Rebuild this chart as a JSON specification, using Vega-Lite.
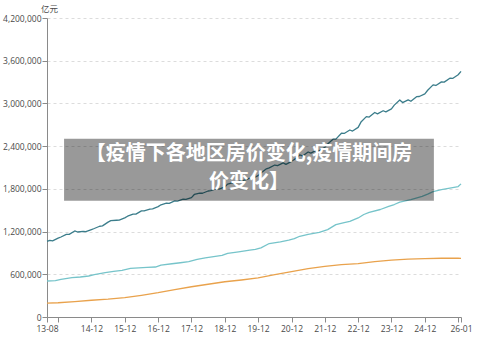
{
  "$schema": "https://vega.github.io/schema/vega-lite/v6.json",
  "width": 414,
  "height": 299,
  "autosize": {"type": "none"},
  "padding": {"left": 47, "top": 18, "right": 39, "bottom": 24},
  "background": "white",
  "config": {
    "view": {"stroke": null},
    "font": "Open Sans",
    "axis": {"labelFont": "Open Sans", "titleFont": "Noto Sans CJK SC"}
  },
  "resolve": {"axis": {"x": "independent"}},
  "data": {"values": [
    {"date": "2013-08-01", "s": "a", "v": 1061000},
    {"date": "2013-09-01", "s": "a", "v": 1077000},
    {"date": "2013-10-01", "s": "a", "v": 1070000},
    {"date": "2013-12-01", "s": "a", "v": 1107000},
    {"date": "2014-01-01", "s": "a", "v": 1124000},
    {"date": "2014-03-01", "s": "a", "v": 1161000},
    {"date": "2014-04-01", "s": "a", "v": 1160000},
    {"date": "2014-06-01", "s": "a", "v": 1209000},
    {"date": "2014-07-01", "s": "a", "v": 1194000},
    {"date": "2014-09-01", "s": "a", "v": 1202000},
    {"date": "2014-10-01", "s": "a", "v": 1199000},
    {"date": "2014-12-01", "s": "a", "v": 1228000},
    {"date": "2015-01-01", "s": "a", "v": 1243000},
    {"date": "2015-03-01", "s": "a", "v": 1275000},
    {"date": "2015-04-01", "s": "a", "v": 1280000},
    {"date": "2015-06-01", "s": "a", "v": 1333000},
    {"date": "2015-07-01", "s": "a", "v": 1353000},
    {"date": "2015-09-01", "s": "a", "v": 1359000},
    {"date": "2015-10-01", "s": "a", "v": 1361000},
    {"date": "2015-12-01", "s": "a", "v": 1392000},
    {"date": "2016-01-01", "s": "a", "v": 1416000},
    {"date": "2016-03-01", "s": "a", "v": 1446000},
    {"date": "2016-04-01", "s": "a", "v": 1445000},
    {"date": "2016-06-01", "s": "a", "v": 1491000},
    {"date": "2016-07-01", "s": "a", "v": 1492000},
    {"date": "2016-09-01", "s": "a", "v": 1516000},
    {"date": "2016-10-01", "s": "a", "v": 1519000},
    {"date": "2016-12-01", "s": "a", "v": 1550000},
    {"date": "2017-01-01", "s": "a", "v": 1576000},
    {"date": "2017-03-01", "s": "a", "v": 1600000},
    {"date": "2017-04-01", "s": "a", "v": 1596000},
    {"date": "2017-06-01", "s": "a", "v": 1631000},
    {"date": "2017-07-01", "s": "a", "v": 1629000},
    {"date": "2017-09-01", "s": "a", "v": 1656000},
    {"date": "2017-10-01", "s": "a", "v": 1653000},
    {"date": "2017-12-01", "s": "a", "v": 1677000},
    {"date": "2018-01-01", "s": "a", "v": 1721000},
    {"date": "2018-03-01", "s": "a", "v": 1739000},
    {"date": "2018-04-01", "s": "a", "v": 1738000},
    {"date": "2018-06-01", "s": "a", "v": 1770000},
    {"date": "2018-07-01", "s": "a", "v": 1776000},
    {"date": "2018-09-01", "s": "a", "v": 1802000},
    {"date": "2018-10-01", "s": "a", "v": 1796000},
    {"date": "2018-12-01", "s": "a", "v": 1827000},
    {"date": "2019-01-01", "s": "a", "v": 1866000},
    {"date": "2019-03-01", "s": "a", "v": 1889000},
    {"date": "2019-04-01", "s": "a", "v": 1884000},
    {"date": "2019-06-01", "s": "a", "v": 1921000},
    {"date": "2019-07-01", "s": "a", "v": 1919000},
    {"date": "2019-09-01", "s": "a", "v": 1952000},
    {"date": "2019-10-01", "s": "a", "v": 1946000},
    {"date": "2019-12-01", "s": "a", "v": 1986000},
    {"date": "2020-01-01", "s": "a", "v": 2023000},
    {"date": "2020-03-01", "s": "a", "v": 2081000},
    {"date": "2020-04-01", "s": "a", "v": 2094000},
    {"date": "2020-06-01", "s": "a", "v": 2135000},
    {"date": "2020-07-01", "s": "a", "v": 2126000},
    {"date": "2020-09-01", "s": "a", "v": 2164000},
    {"date": "2020-10-01", "s": "a", "v": 2144000},
    {"date": "2020-12-01", "s": "a", "v": 2187000},
    {"date": "2021-01-01", "s": "a", "v": 2213000},
    {"date": "2021-03-01", "s": "a", "v": 2277000},
    {"date": "2021-04-01", "s": "a", "v": 2262000},
    {"date": "2021-06-01", "s": "a", "v": 2318000},
    {"date": "2021-07-01", "s": "a", "v": 2302000},
    {"date": "2021-09-01", "s": "a", "v": 2343000},
    {"date": "2021-10-01", "s": "a", "v": 2336000},
    {"date": "2021-12-01", "s": "a", "v": 2383000},
    {"date": "2022-01-01", "s": "a", "v": 2431000},
    {"date": "2022-03-01", "s": "a", "v": 2498000},
    {"date": "2022-04-01", "s": "a", "v": 2499000},
    {"date": "2022-06-01", "s": "a", "v": 2581000},
    {"date": "2022-07-01", "s": "a", "v": 2578000},
    {"date": "2022-09-01", "s": "a", "v": 2627000},
    {"date": "2022-10-01", "s": "a", "v": 2612000},
    {"date": "2022-12-01", "s": "a", "v": 2664000},
    {"date": "2023-01-01", "s": "a", "v": 2738000},
    {"date": "2023-03-01", "s": "a", "v": 2815000},
    {"date": "2023-04-01", "s": "a", "v": 2809000},
    {"date": "2023-06-01", "s": "a", "v": 2873000},
    {"date": "2023-07-01", "s": "a", "v": 2854000},
    {"date": "2023-09-01", "s": "a", "v": 2897000},
    {"date": "2023-10-01", "s": "a", "v": 2882000},
    {"date": "2023-12-01", "s": "a", "v": 2923000},
    {"date": "2024-01-01", "s": "a", "v": 2976000},
    {"date": "2024-03-01", "s": "a", "v": 3048000},
    {"date": "2024-04-01", "s": "a", "v": 3012000},
    {"date": "2024-06-01", "s": "a", "v": 3050000},
    {"date": "2024-07-01", "s": "a", "v": 3031000},
    {"date": "2024-09-01", "s": "a", "v": 3095000},
    {"date": "2024-10-01", "s": "a", "v": 3097000},
    {"date": "2024-12-01", "s": "a", "v": 3135000},
    {"date": "2025-01-01", "s": "a", "v": 3185000},
    {"date": "2025-03-01", "s": "a", "v": 3261000},
    {"date": "2025-04-01", "s": "a", "v": 3252000},
    {"date": "2025-06-01", "s": "a", "v": 3303000},
    {"date": "2025-07-01", "s": "a", "v": 3299000},
    {"date": "2025-09-01", "s": "a", "v": 3354000},
    {"date": "2025-10-01", "s": "a", "v": 3351000},
    {"date": "2025-12-01", "s": "a", "v": 3403000},
    {"date": "2026-01-01", "s": "a", "v": 3450000},

    {"date": "2013-08-01", "s": "b", "v": 506000},
    {"date": "2013-11-01", "s": "b", "v": 512000},
    {"date": "2014-01-01", "s": "b", "v": 530000},
    {"date": "2014-05-01", "s": "b", "v": 553000},
    {"date": "2014-08-01", "s": "b", "v": 562000},
    {"date": "2014-11-01", "s": "b", "v": 576000},
    {"date": "2015-01-01", "s": "b", "v": 595000},
    {"date": "2015-05-01", "s": "b", "v": 622000},
    {"date": "2015-08-01", "s": "b", "v": 640000},
    {"date": "2015-11-01", "s": "b", "v": 656000},
    {"date": "2016-02-01", "s": "b", "v": 683000},
    {"date": "2016-05-01", "s": "b", "v": 690000},
    {"date": "2016-08-01", "s": "b", "v": 696000},
    {"date": "2016-11-01", "s": "b", "v": 702000},
    {"date": "2017-01-01", "s": "b", "v": 730000},
    {"date": "2017-05-01", "s": "b", "v": 748000},
    {"date": "2017-08-01", "s": "b", "v": 762000},
    {"date": "2017-11-01", "s": "b", "v": 777000},
    {"date": "2018-02-01", "s": "b", "v": 809000},
    {"date": "2018-05-01", "s": "b", "v": 830000},
    {"date": "2018-08-01", "s": "b", "v": 848000},
    {"date": "2018-11-01", "s": "b", "v": 865000},
    {"date": "2019-01-01", "s": "b", "v": 893000},
    {"date": "2019-05-01", "s": "b", "v": 915000},
    {"date": "2019-09-01", "s": "b", "v": 940000},
    {"date": "2019-11-01", "s": "b", "v": 950000},
    {"date": "2020-01-01", "s": "b", "v": 972000},
    {"date": "2020-04-01", "s": "b", "v": 1032000},
    {"date": "2020-08-01", "s": "b", "v": 1055000},
    {"date": "2020-11-01", "s": "b", "v": 1079000},
    {"date": "2021-01-01", "s": "b", "v": 1100000},
    {"date": "2021-03-01", "s": "b", "v": 1134000},
    {"date": "2021-06-01", "s": "b", "v": 1160000},
    {"date": "2021-10-01", "s": "b", "v": 1190000},
    {"date": "2022-01-01", "s": "b", "v": 1228000},
    {"date": "2022-04-01", "s": "b", "v": 1298000},
    {"date": "2022-07-01", "s": "b", "v": 1325000},
    {"date": "2022-09-01", "s": "b", "v": 1344000},
    {"date": "2022-12-01", "s": "b", "v": 1391000},
    {"date": "2023-02-01", "s": "b", "v": 1440000},
    {"date": "2023-04-01", "s": "b", "v": 1469000},
    {"date": "2023-08-01", "s": "b", "v": 1510000},
    {"date": "2023-11-01", "s": "b", "v": 1553000},
    {"date": "2024-01-01", "s": "b", "v": 1580000},
    {"date": "2024-03-01", "s": "b", "v": 1614000},
    {"date": "2024-07-01", "s": "b", "v": 1650000},
    {"date": "2024-11-01", "s": "b", "v": 1693000},
    {"date": "2025-01-01", "s": "b", "v": 1725000},
    {"date": "2025-03-01", "s": "b", "v": 1762000},
    {"date": "2025-06-01", "s": "b", "v": 1790000},
    {"date": "2025-09-01", "s": "b", "v": 1810000},
    {"date": "2025-12-01", "s": "b", "v": 1832000},
    {"date": "2026-01-01", "s": "b", "v": 1870000},

    {"date": "2013-08-01", "s": "c", "v": 195000},
    {"date": "2013-12-01", "s": "c", "v": 200000},
    {"date": "2014-06-01", "s": "c", "v": 215000},
    {"date": "2014-12-01", "s": "c", "v": 235000},
    {"date": "2015-06-01", "s": "c", "v": 250000},
    {"date": "2015-12-01", "s": "c", "v": 272000},
    {"date": "2016-06-01", "s": "c", "v": 305000},
    {"date": "2016-12-01", "s": "c", "v": 342000},
    {"date": "2017-06-01", "s": "c", "v": 385000},
    {"date": "2017-12-01", "s": "c", "v": 425000},
    {"date": "2018-06-01", "s": "c", "v": 460000},
    {"date": "2018-12-01", "s": "c", "v": 495000},
    {"date": "2019-06-01", "s": "c", "v": 520000},
    {"date": "2019-12-01", "s": "c", "v": 550000},
    {"date": "2020-06-01", "s": "c", "v": 595000},
    {"date": "2020-12-01", "s": "c", "v": 638000},
    {"date": "2021-06-01", "s": "c", "v": 680000},
    {"date": "2021-12-01", "s": "c", "v": 712000},
    {"date": "2022-06-01", "s": "c", "v": 735000},
    {"date": "2022-12-01", "s": "c", "v": 750000},
    {"date": "2023-06-01", "s": "c", "v": 778000},
    {"date": "2023-12-01", "s": "c", "v": 798000},
    {"date": "2024-06-01", "s": "c", "v": 812000},
    {"date": "2024-12-01", "s": "c", "v": 821000},
    {"date": "2025-06-01", "s": "c", "v": 825000},
    {"date": "2025-12-01", "s": "c", "v": 825000},
    {"date": "2026-01-01", "s": "c", "v": 823000}
  ]},
  "layer": [
    {
      "mark": {"type": "line", "strokeWidth": 1.3, "strokeJoin": "round"},
      "encoding": {
        "x": {
          "field": "date", "type": "temporal",
          "scale": {"type": "utc", "domain": [{"year": 2013, "month": 8, "date": 1, "utc": true}, {"year": 2026, "month": 1, "date": 1, "utc": true}], "nice": false},
          "axis": {
            "orient": "bottom",
            "title": null,
            "grid": false,
            "values": [
              {"year": 2013, "month": 8, "date": 1, "utc": true},
              {"year": 2014, "month": 12, "date": 1, "utc": true},
              {"year": 2015, "month": 12, "date": 1, "utc": true},
              {"year": 2016, "month": 12, "date": 1, "utc": true},
              {"year": 2017, "month": 12, "date": 1, "utc": true},
              {"year": 2018, "month": 12, "date": 1, "utc": true},
              {"year": 2019, "month": 12, "date": 1, "utc": true},
              {"year": 2020, "month": 12, "date": 1, "utc": true},
              {"year": 2021, "month": 12, "date": 1, "utc": true},
              {"year": 2022, "month": 12, "date": 1, "utc": true},
              {"year": 2023, "month": 12, "date": 1, "utc": true},
              {"year": 2024, "month": 12, "date": 1, "utc": true},
              {"year": 2026, "month": 1, "date": 1, "utc": true}
            ],
            "labelExpr": "utcFormat(datum.value,'%y-%m')",
            "labelOverlap": false,
            "labelFontSize": 8.5,
            "labelColor": "#4a4a4a",
            "labelPadding": 2,
            "tickSize": 5,
            "tickColor": "#8a8a8a",
            "domainColor": "#8a8a8a",
            "labelFlush": false,
            "labelBound": false
          }
        },
        "y": {
          "field": "v", "type": "quantitative",
          "scale": {"domain": [0, 4200000], "nice": false},
          "axis": {
            "values": [0, 600000, 1200000, 1800000, 2400000, 3000000, 3600000, 4200000],
            "format": ",d",
            "title": "亿元",
            "titleAngle": 0,
            "titleX": 2,
            "titleY": -10,
            "titleAlign": "center",
            "titleBaseline": "middle",
            "titleFontWeight": "normal",
            "titleFontSize": 8.5,
            "titleColor": "#4a4a4a",
            "labelFontSize": 8.5,
            "labelColor": "#4a4a4a",
            "labelPadding": 1,
            "tickSize": 5,
            "tickColor": "#8a8a8a",
            "domainColor": "#8a8a8a",
            "gridColor": "#dcdcdc",
            "gridDash": [3, 3],
            "gridWidth": 1
          }
        },
        "color": {
          "field": "s", "type": "nominal",
          "scale": {"domain": ["a", "b", "c"], "range": ["#3b7d8b", "#76c4ca", "#e9a24c"]},
          "legend": null
        }
      }
    },
    {
      "data": {"values": [{}]},
      "mark": {"type": "rect", "fill": "#000000", "fillOpacity": 0.4},
      "encoding": {
        "x": {
          "datum": {"year": 2014, "month": 2, "date": 4, "utc": true}, "type": "temporal",
          "axis": {
            "orient": "bottom",
            "title": null,
            "grid": false,
            "domain": false,
            "labels": false,
            "values": [
              {"year": 2013, "month": 12, "date": 1, "utc": true},
              {"year": 2025, "month": 12, "date": 1, "utc": true}
            ],
            "tickSize": 5,
            "tickColor": "#8a8a8a"
          }
        },
        "x2": {"datum": {"year": 2025, "month": 3, "date": 10, "utc": true}},
        "y": {"datum": 2505000, "type": "quantitative"},
        "y2": {"datum": 1634000}
      }
    },
    {
      "data": {"values": [{}]},
      "mark": {"type": "text", "font": "Noto Sans CJK SC", "fontSize": 20, "fontWeight": "bold", "fill": "white", "align": "center", "baseline": "middle"},
      "encoding": {
        "x": {"datum": {"year": 2019, "month": 8, "date": 22, "utc": true}, "type": "temporal", "axis": null},
        "y": {"datum": 2294000, "type": "quantitative"},
        "text": {"value": "【疫情下各地区房价变化,疫情期间房"}
      }
    },
    {
      "data": {"values": [{}]},
      "mark": {"type": "text", "font": "Noto Sans CJK SC", "fontSize": 20, "fontWeight": "bold", "fill": "white", "align": "center", "baseline": "middle"},
      "encoding": {
        "x": {"datum": {"year": 2019, "month": 8, "date": 22, "utc": true}, "type": "temporal", "axis": null},
        "y": {"datum": 1894000, "type": "quantitative"},
        "text": {"value": "价变化】"}
      }
    }
  ]
}
